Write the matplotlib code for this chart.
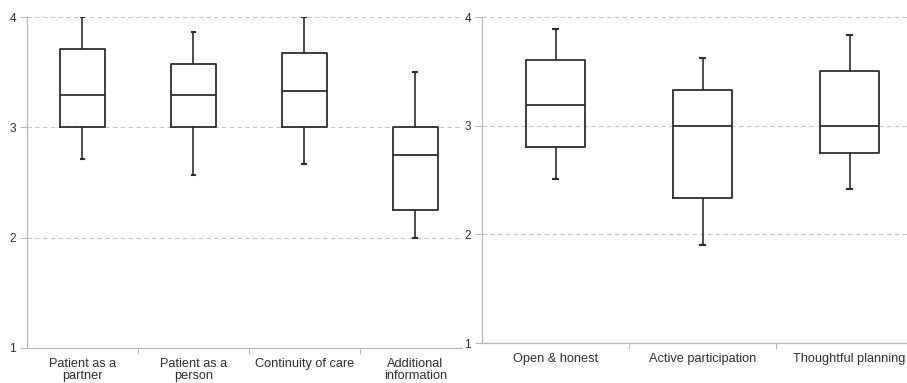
import matplotlib
matplotlib.use("Agg")
from matplotlib import pyplot as plt
import numpy as np

plt.rcParams['font.family'] = ['Liberation Sans', 'DejaVu Sans']

# left panel
left_labels = ['Patient as a\npartner', 'Patient as a\nperson', 'Continuity of care', 'Additional\ninformation']
left_whislo = [2.71, 2.57, 2.67, 2.00]
left_q1 = [3.00, 3.00, 3.00, 2.25]
left_med = [3.29, 3.29, 3.33, 2.75]
left_q3 = [3.71, 3.57, 3.67, 3.00]
left_whishi = [4.00, 3.86, 4.00, 3.50]

# right panel
right_labels = ['Open & honest', 'Active participation', 'Thoughtful planning']
right_whislo = [2.51, 1.90, 2.42]
right_q1 = [2.80, 2.33, 2.75]
right_med = [3.19, 3.00, 3.00]
right_q3 = [3.60, 3.33, 3.50]
right_whishi = [3.89, 3.62, 3.83]

EDGE = '#2e2e2e'
SPINE = '#b8b8b8'
TXT = '#2e2e2e'


def _stats(lo, q1, med, q3, hi):
    return [dict(whislo=a, q1=b, med=c, q3=d, whishi=e, fliers=[])
            for a, b, c, d, e in zip(lo, q1, med, q3, hi)]


def _draw(ax, stats, labels, xmax):
    n = len(stats)
    ax.bxp(stats, positions=np.arange(n), widths=0.4, showfliers=False,
           boxprops=dict(color=EDGE, linewidth=1.3),
           medianprops=dict(color=EDGE, linewidth=1.3),
           whiskerprops=dict(color=EDGE, linewidth=1.2),
           capprops=dict(color=EDGE, linewidth=1.5),
           capwidths=0.035)
    ax.set_xlim(-0.5, xmax)
    ax.set_ylim(1, 4)
    ax.set_yticks([1, 2, 3, 4])
    for y in [2, 3, 4]:
        ax.axhline(y, color='#c4c4c4', linestyle=(0, (4, 3)), linewidth=0.8, zorder=0)
    ax.set_xticks(np.arange(n))
    ax.set_xticklabels(labels, fontsize=9.2, color=TXT, linespacing=1.08)
    ax.tick_params(axis='x', length=0, pad=7)
    ax.set_xticks(np.arange(n - 1) + 0.5, minor=True)
    ax.tick_params(axis='x', which='minor', length=4, color=SPINE, width=0.8)
    ax.tick_params(axis='y', length=5, color=SPINE, width=0.8, labelsize=8.5,
                   labelcolor=TXT, pad=3)
    for s in ['top', 'right']:
        ax.spines[s].set_visible(False)
    for s in ['left', 'bottom']:
        ax.spines[s].set_color(SPINE)
        ax.spines[s].set_linewidth(0.9)


fig = plt.figure(figsize=(9.07, 3.83), dpi=100)
ax1 = fig.add_axes([27 / 907, 1 - 348 / 383, (462 - 27) / 907, (348 - 17) / 383])
ax2 = fig.add_axes([482 / 907, 1 - 343 / 383, (907 - 482) / 907, (343 - 17) / 383])

_draw(ax1, _stats(left_whislo, left_q1, left_med, left_q3, left_whishi), left_labels, 3.42)
_draw(ax2, _stats(right_whislo, right_q1, right_med, right_q3, right_whishi), right_labels, 2.39)

fig.savefig('out.png', dpi=100)
